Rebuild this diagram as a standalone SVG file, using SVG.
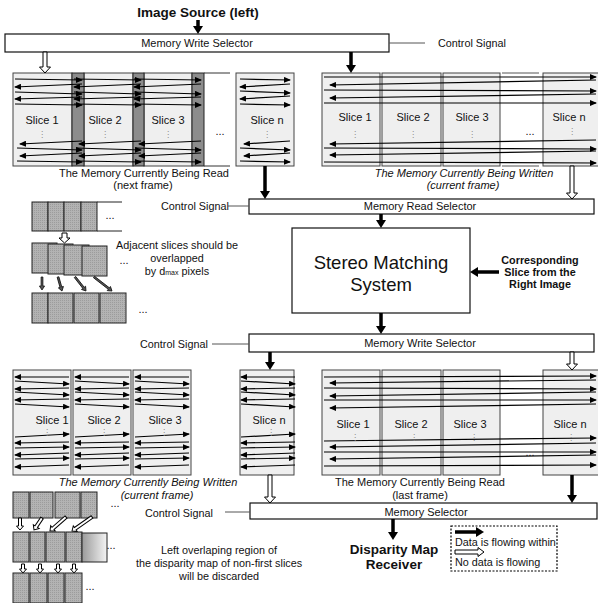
<svg xmlns="http://www.w3.org/2000/svg" width="598" height="603" viewBox="0 0 598 603">
<defs>
<style>
text{font-family:"Liberation Sans",Arial,sans-serif;fill:#111}
.t11{font-size:11px}
.lab{font-size:10.8px}
.b{font-weight:bold}
.it{font-style:italic}
.c{text-anchor:middle}
.box{fill:#fff;stroke:#111;stroke-width:1.2}
.slice{fill:#efefef;stroke:#444;stroke-width:1}
.band{fill:#8c8c8c;stroke:#222;stroke-width:1}
.scan{stroke:#000;stroke-width:1.2;fill:none;marker-end:url(#ah)}
.thick{stroke:#000;stroke-width:3.5;fill:none;marker-end:url(#big)}
.hol{fill:#fff;stroke:#000;stroke-width:1}
.dk{fill:#555;stroke:#111;stroke-width:0.8}
.cs{stroke:#555;stroke-width:1;fill:none}
.g{fill:url(#stip);stroke:#222;stroke-width:1}
.dots{font-family:"DejaVu Sans",sans-serif;font-size:8px;fill:#888;text-anchor:middle}
.ell{font-size:11px;text-anchor:middle}
</style>
<marker id="ah" viewBox="0 0 7 6" refX="6" refY="3" markerWidth="7" markerHeight="6" markerUnits="userSpaceOnUse" orient="auto"><path d="M0,0 L7,3 L0,6 z" fill="#000"/></marker>
<marker id="big" viewBox="0 0 8 10" refX="1" refY="5" markerWidth="8" markerHeight="10" markerUnits="userSpaceOnUse" orient="auto"><path d="M0,0 L8,5 L0,10 z" fill="#000"/></marker>
<pattern id="stip" width="2" height="2" patternUnits="userSpaceOnUse"><rect width="2" height="2" fill="#b3b3b3"/><rect width="1" height="1" fill="#9c9c9c"/></pattern>
<linearGradient id="fade" x1="0" x2="1" y1="0" y2="0"><stop offset="0" stop-color="#9a9a9a"/><stop offset="1" stop-color="#f4f4f4"/></linearGradient>
<g id="scanA">
<path class="scan" d="M0,79 L67,80"/>
<path class="scan" d="M67,84 L0,87"/>
<path class="scan" d="M0,92 L67,94"/>
<path class="scan" d="M67,97 L0,99"/>
<path class="scan" d="M0,104 L67,105"/>
<path class="scan" d="M67,141 L5,144"/>
<path class="scan" d="M2,148 L67,150"/>
<path class="scan" d="M67,153 L5,156"/>
<path class="scan" d="M2,161 L67,162"/>
</g>
<g id="scanB">
<path class="scan" d="M54,377 L0,377"/>
<path class="scan" d="M0,381 L54,384"/>
<path class="scan" d="M54,388 L0,389"/>
<path class="scan" d="M0,392 L54,395"/>
<path class="scan" d="M54,399 L0,400"/>
<path class="scan" d="M0,404 L54,407"/>
<path class="scan" d="M0,437 L54,434"/>
<path class="scan" d="M54,442 L0,443"/>
<path class="scan" d="M0,448 L54,447"/>
<path class="scan" d="M54,453 L0,455"/>
<path class="scan" d="M0,459 L54,458"/>
<path class="scan" d="M54,465 L0,467"/>
</g>
</defs>
<rect width="598" height="603" fill="#fff"/>

<g id="image-source">
<text class="b c" x="198" y="17" style="font-size:13.5px">Image Source (left)</text>
</g>

<g id="mws1">
<rect class="box" x="5" y="34" width="384" height="18"/>
<text class="t11 c" x="197" y="47">Memory Write Selector</text>
</g>
<g id="cs1"><text class="lab" x="438" y="47">Control Signal</text></g>

<g id="mem-read-next">
<rect class="slice" x="13" y="73" width="59" height="93"/>
<rect class="slice" x="84" y="73" width="49" height="93"/>
<rect class="slice" x="144" y="73" width="48" height="93"/>
<rect class="band" x="72" y="73" width="12" height="93"/>
<rect class="band" x="133" y="73" width="11" height="93"/>
<rect class="band" x="192" y="73" width="12" height="93"/>
<path d="M204,73 H230 M204,166 H230" stroke="#333" stroke-width="1"/>
<use href="#scanA" transform="translate(15,0)"/>
<use href="#scanA" transform="translate(74,0)"/>
<use href="#scanA" transform="translate(134,0)"/>
<text class="t11 c" x="42" y="124">Slice 1</text>
<text class="t11 c" x="105" y="124">Slice 2</text>
<text class="t11 c" x="168" y="124">Slice 3</text>
<text class="dots" x="42" y="137">⋮</text>
<text class="dots" x="105" y="137">⋮</text>
<text class="dots" x="168" y="137">⋮</text>
<text class="ell" x="220" y="135">...</text>
<rect class="slice" x="236" y="73" width="58" height="93"/>
<path class="scan" d="M240,79 L290,80"/>
<path class="scan" d="M290,84 L240,87"/>
<path class="scan" d="M240,91 L290,93"/>
<path class="scan" d="M290,96 L240,99"/>
<path class="scan" d="M240,104 L290,105"/>
<path class="scan" d="M290,141 L244,144"/>
<path class="scan" d="M240,148 L290,150"/>
<path class="scan" d="M290,153 L244,156"/>
<path class="scan" d="M240,161 L290,162"/>
<text class="t11 c" x="267" y="124">Slice n</text>
<text class="dots" x="267" y="137">⋮</text>
<text class="t11 c" x="144" y="177">The Memory Currently Being Read</text>
<text class="t11 c" x="143" y="189">(next frame)</text>
</g>

<g id="mem-written-current">
<rect class="slice" x="322" y="73" width="58" height="93"/>
<rect class="slice" x="382" y="73" width="59" height="93"/>
<rect class="slice" x="443" y="73" width="57" height="93"/>
<rect class="slice" x="543" y="73" width="56" height="93"/>
<path d="M502,73 H539 M502,166 H539" stroke="#555" stroke-width="1"/>
<path class="scan" d="M324,77 L596,77"/>
<path class="scan" d="M596,80 L330,85"/>
<path class="scan" d="M324,90 L596,91"/>
<path class="scan" d="M596,94 L330,98"/>
<path class="scan" d="M324,103 L596,103"/>
<path class="scan" d="M596,140 L330,144"/>
<path class="scan" d="M324,148 L596,149"/>
<path class="scan" d="M596,151 L330,155"/>
<path class="scan" d="M324,162 L596,163"/>
<text class="t11 c" x="355" y="121">Slice 1</text>
<text class="t11 c" x="413" y="121">Slice 2</text>
<text class="t11 c" x="472" y="121">Slice 3</text>
<text class="t11 c" x="569" y="121">Slice n</text>
<text class="dots" x="355" y="137">⋮</text>
<text class="dots" x="413" y="137">⋮</text>
<text class="dots" x="472" y="137">⋮</text>
<text class="dots" x="572" y="134">⋮</text>
<text class="ell" x="530" y="135">...</text>
<text class="t11 c it" x="464" y="177">The Memory Currently Being Written</text>
<text class="t11 c it" x="463" y="189">(current frame)</text>
</g>

<g id="mrs">
<rect class="box" x="249" y="199" width="345" height="15"/>
<text class="t11 c" x="420" y="210">Memory Read Selector</text>
</g>
<g id="cs2"><text class="lab" x="161" y="210">Control Signal</text></g>

<g id="sms">
<rect class="box" x="292" y="228" width="178" height="85"/>
<text class="c" x="381" y="269" style="font-size:18.5px">Stereo Matching</text>
<text class="c" x="381" y="291" style="font-size:18.5px">System</text>
</g>
<g id="right-slice">
<text class="b c" x="540" y="264" style="font-size:10.8px">Corresponding</text>
<text class="b c" x="540" y="276" style="font-size:10.8px">Slice from the</text>
<text class="b c" x="540" y="288" style="font-size:10.8px">Right Image</text>
</g>

<g id="overlap-illustration">
<rect class="g" x="32" y="202" width="16" height="29"/>
<rect class="g" x="48" y="202" width="16" height="29"/>
<rect class="g" x="64" y="202" width="17" height="29"/>
<rect class="g" x="81" y="202" width="16" height="29"/>
<path d="M97,202 H122 M97,231 H122" stroke="#222" stroke-width="1"/>
<text class="ell" x="110" y="219">...</text>
<path class="hol" d="M62,233 L67,233 L67,238 L70,238 L64.5,243 L59,238 L62,238 Z"/>
<rect class="g" x="32" y="243" width="25" height="30"/>
<rect class="g" x="48" y="244" width="25" height="30"/>
<rect class="g" x="64" y="245" width="25" height="30"/>
<rect class="g" x="82" y="246" width="25" height="30"/>
<text class="ell" x="124" y="264">...</text>
<path class="dk" d="M-0.9,0 L0.9,0 L0.9,9 L2.6,9 L0,13 L-2.6,9 L-0.9,9 Z" transform="translate(42,277)"/>
<path class="dk" d="M-0.9,0 L0.9,0 L0.9,10.6 L2.6,10.6 L0,14.6 L-2.6,10.6 L-0.9,10.6 Z" transform="translate(58,277) rotate(-15.9)"/>
<path class="dk" d="M-0.9,0 L0.9,0 L0.9,13.8 L2.6,13.8 L0,17.8 L-2.6,13.8 L-0.9,13.8 Z" transform="translate(75,277) rotate(-38.2)"/>
<path class="dk" d="M-0.9,0 L0.9,0 L0.9,18.8 L2.6,18.8 L0,22.8 L-2.6,18.8 L-0.9,18.8 Z" transform="translate(94,277) rotate(-52.1)"/>
<rect class="g" x="32" y="293" width="16" height="30"/>
<rect class="g" x="48" y="293" width="25" height="30"/>
<rect class="g" x="74" y="293" width="25" height="30"/>
<rect class="g" x="100" y="293" width="26" height="30"/>
<text class="ell" x="143" y="313">...</text>
<text class="lab c" x="177" y="249">Adjacent slices should be</text>
<text class="lab c" x="177" y="262">overlapped</text>
<text class="lab c" x="177" y="275">by d<tspan style="font-size:7px">max</tspan> pixels</text>
</g>

<g id="mws2">
<rect class="box" x="249" y="334" width="345" height="18"/>
<text class="t11 c" x="420" y="347">Memory Write Selector</text>
</g>
<g id="cs3"><text class="lab" x="140" y="348">Control Signal</text></g>

<g id="mem-written-bottom">
<rect class="slice" x="13" y="370" width="58" height="105"/>
<rect class="slice" x="73" y="370" width="58" height="105"/>
<rect class="slice" x="133" y="370" width="58" height="105"/>
<rect class="slice" x="240" y="370" width="54" height="105"/>
<use href="#scanB" transform="translate(15,0)"/>
<use href="#scanB" transform="translate(75,0)"/>
<use href="#scanB" transform="translate(135,0)"/>
<use href="#scanB" transform="translate(241,0)"/>
<text class="t11 c" x="52" y="424">Slice 1</text>
<text class="t11 c" x="104" y="424">Slice 2</text>
<text class="t11 c" x="165" y="424">Slice 3</text>
<text class="t11 c" x="269" y="424">Slice n</text>
<text class="dots" x="47" y="435">⋮</text>
<text class="dots" x="104" y="435">⋮</text>
<text class="dots" x="164" y="435">⋮</text>
<text class="dots" x="271" y="435">⋮</text>
<text class="t11 c it" x="148" y="486">The Memory Currently Being Written</text>
<text class="t11 c it" x="157" y="499">(current frame)</text>
</g>

<g id="mem-read-last">
<rect class="slice" x="322" y="370" width="58" height="105"/>
<rect class="slice" x="382" y="370" width="59" height="105"/>
<rect class="slice" x="443" y="370" width="57" height="105"/>
<rect class="slice" x="543" y="370" width="56" height="105"/>
<path class="scan" d="M324,377 L596,376"/>
<path class="scan" d="M596,380 L330,383"/>
<path class="scan" d="M324,388 L596,389"/>
<path class="scan" d="M596,392 L330,396"/>
<path class="scan" d="M324,400 L596,400"/>
<path class="scan" d="M596,404 L330,408"/>
<path class="scan" d="M324,441 L596,438"/>
<path class="scan" d="M596,443 L330,447"/>
<path class="scan" d="M324,452 L596,452"/>
<path class="scan" d="M596,455 L330,459"/>
<path class="scan" d="M324,466 L596,465"/>
<text class="t11 c" x="353" y="428">Slice 1</text>
<text class="t11 c" x="411" y="428">Slice 2</text>
<text class="t11 c" x="470" y="428">Slice 3</text>
<text class="t11 c" x="570" y="428">Slice n</text>
<text class="dots" x="355" y="440">⋮</text>
<text class="dots" x="414" y="440">⋮</text>
<text class="dots" x="474" y="440">⋮</text>
<text class="dots" x="571" y="440">⋮</text>
<text class="ell" x="530" y="456">...</text>
<text class="t11 c" x="420" y="486">The Memory Currently Being Read</text>
<text class="t11 c" x="420" y="499">(last frame)</text>
</g>

<g id="ms">
<rect class="box" x="250" y="503" width="347" height="16"/>
<text class="t11 c" x="426" y="516">Memory Selector</text>
</g>
<g id="cs4"><text class="lab" x="145" y="517">Control Signal</text></g>

<g id="discard-illustration">
<rect class="g" x="13" y="492" width="16" height="26"/>
<rect class="g" x="30" y="492" width="23" height="26"/>
<rect class="g" x="55" y="492" width="25" height="26"/>
<rect class="g" x="81" y="492" width="16" height="26"/>
<text class="ell" x="115" y="507">...</text>
<path class="hol" d="M-1.5,0 L1.5,0 L1.5,8 L3.5,8 L0,12 L-3.5,8 L-1.5,8 Z" transform="translate(20,518)"/>
<path class="hol" d="M-1.5,0 L1.5,0 L1.5,10.4 L3.5,10.4 L0,14.4 L-3.5,10.4 L-1.5,10.4 Z" transform="translate(42,518) rotate(33.7)"/>
<path class="hol" d="M-1.5,0 L1.5,0 L1.5,17.3 L3.5,17.3 L0,21.3 L-3.5,17.3 L-1.5,17.3 Z" transform="translate(66,517) rotate(48.8)"/>
<path class="hol" d="M-1.5,0 L1.5,0 L1.5,20.4 L3.5,20.4 L0,24.4 L-3.5,20.4 L-1.5,20.4 Z" transform="translate(92,517) rotate(55)"/>
<rect class="g" x="13" y="532" width="16" height="30"/>
<rect class="g" x="30" y="532" width="15" height="30"/>
<rect class="g" x="46" y="532" width="19" height="30"/>
<rect class="g" x="66" y="532" width="16" height="30"/>
<rect x="82" y="533" width="25" height="29" fill="url(#fade)" stroke="#222" stroke-width="1"/>
<text class="ell" x="111" y="549">...</text>
<path class="hol" d="M-1.5,0 L1.5,0 L1.5,5 L3.5,5 L0,9 L-3.5,5 L-1.5,5 Z" transform="translate(23,564)"/>
<path class="hol" d="M-1.5,0 L1.5,0 L1.5,5 L3.5,5 L0,9 L-3.5,5 L-1.5,5 Z" transform="translate(40,564)"/>
<path class="hol" d="M-1.5,0 L1.5,0 L1.5,5 L3.5,5 L0,9 L-3.5,5 L-1.5,5 Z" transform="translate(58,564)"/>
<path class="hol" d="M-1.5,0 L1.5,0 L1.5,5 L3.5,5 L0,9 L-3.5,5 L-1.5,5 Z" transform="translate(74,564)"/>
<rect class="g" x="13" y="573" width="16" height="30"/>
<rect class="g" x="30" y="573" width="17" height="30"/>
<rect class="g" x="48" y="573" width="16" height="30"/>
<rect class="g" x="65" y="573" width="17" height="30"/>
<text class="ell" x="90" y="590">...</text>
<text class="lab c" x="219" y="554">Left overlaping region of</text>
<text class="lab c" x="219" y="567">the disparity map of non-first slices</text>
<text class="lab c" x="219" y="580">will be discarded</text>
</g>

<g id="disparity-receiver">
<text class="b c" x="394" y="554" style="font-size:13.5px">Disparity Map</text>
<text class="b c" x="394" y="569" style="font-size:13.5px">Receiver</text>
</g>

<g id="legend">
<rect x="451" y="526" width="106" height="45" fill="none" stroke="#000" stroke-width="1.2" stroke-dasharray="2,1.5"/>
<path class="thick" d="M455,532 L477,532"/>
<text class="lab" x="455" y="546">Data is flowing within</text>
<path class="hol" d="M455,550 L478,550 L478,547.5 L484,552 L478,556.5 L478,554 L455,554 Z"/>
<text class="lab" x="455" y="566">No data is flowing</text>
</g>

<g id="connectors">
<path class="cs" d="M389,43 H425"/>
<path class="cs" d="M228,206 H249"/>
<path class="cs" d="M212,344 H249"/>
<path class="cs" d="M225,512 H250"/>
<path class="thick" d="M198,20 L198,27"/>
<path class="thick" d="M351,52 L351,66"/>
<path class="thick" d="M265,166 L265,192"/>
<path class="thick" d="M381,214 L381,221"/>
<path class="thick" d="M381,313 L381,327"/>
<path class="thick" d="M499,272 L477,272"/>
<path class="thick" d="M270,352 L270,363"/>
<path class="thick" d="M572,475 L572,496"/>
<path class="thick" d="M393,519 L393,533"/>
<path class="hol" d="M43,52 L47,52 L47,67 L50.5,67 L45,73 L39.5,67 L43,67 Z"/>
<path class="hol" d="M570,166 L574,166 L574,193 L577.5,193 L572,199 L566.5,193 L570,193 Z"/>
<path class="hol" d="M570,352 L574,352 L574,364 L577.5,364 L572,370 L566.5,364 L570,364 Z"/>
<path class="hol" d="M268,475 L272,475 L272,497 L275.5,497 L270,503 L264.5,497 L268,497 Z"/>
</g>
</svg>
